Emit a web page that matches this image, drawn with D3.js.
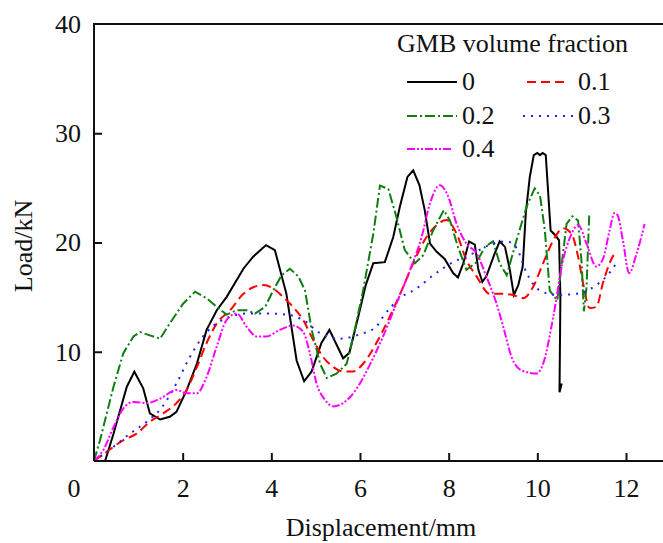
<!doctype html>
<html>
  <head>
    <title>Load vs displacement</title>
    <style>
      * { margin: 0; padding: 0; }
      body { background: #fff; }
      svg text { font-family: "Liberation Serif", "Times New Roman", serif; fill: #111; }
    </style>
    <script src="https://d3js.org/d3.v7.min.js"></script>
  </head>
  <body>
    <div id="chart"></div>
    <script>
    // displacement (mm) and load (kN), one pair of arrays per GMB fraction
    const x0 = [0, 0.25, 0.44, 0.74, 0.91, 1.11, 1.26, 1.49, 1.71, 1.86, 2.09, 2.32, 2.54, 2.77, 2.99, 3.37, 3.59, 3.88, 4.08, 4.34, 4.57, 4.74, 4.91, 5.13, 5.31, 5.62, 5.76, 5.96, 6.13, 6.3, 6.56, 6.75, 6.9, 7.07, 7.2, 7.34, 7.46, 7.58, 7.73, 7.91, 8.1, 8.21, 8.33, 8.46, 8.59, 8.67, 8.76, 8.85, 9.02, 9.15, 9.27, 9.38, 9.47, 9.57, 9.67, 9.74, 9.83, 9.92, 10.0, 10.06, 10.12, 10.19, 10.3, 10.42, 10.49, 10.52, 10.5, 10.55];
    const y0 = [0, 0, 2.5, 6.8, 8.17, 6.65, 4.36, 3.8, 4.05, 4.5, 6.5, 8.9, 12.0, 13.8, 15.0, 17.6, 18.7, 19.76, 19.3, 15.3, 9.2, 7.3, 8.2, 10.8, 12.0, 9.4, 9.9, 13.2, 16.1, 18.1, 18.2, 20.5, 23.3, 26.0, 26.6, 25.25, 22.96, 19.9, 19.15, 18.5, 17.2, 16.8, 18.1, 20.1, 19.8, 17.5, 16.4, 16.9, 18.8, 20.1, 19.6, 17.5, 15.2, 16.1, 17.8, 22.7, 26.0, 28.0, 28.2, 28.0, 28.2, 28.0, 21.1, 20.6, 20.2, 15.0, 6.3, 7.1];

    const x1 = [0, 0.29, 0.66, 0.96, 1.26, 1.56, 1.86, 2.09, 2.32, 2.54, 2.77, 3.07, 3.37, 3.59, 3.82, 4.04, 4.27, 4.49, 4.72, 4.94, 5.17, 5.4, 5.62, 5.85, 6.07, 6.37, 6.67, 6.97, 7.2, 7.5, 7.73, 7.95, 8.18, 8.4, 8.63, 8.93, 9.23, 9.45, 9.68, 9.9, 10.13, 10.36, 10.58, 10.77, 10.92, 11.03, 11.18, 11.33, 11.48, 11.63, 11.72];
    const y1 = [0, 0.85, 1.9, 2.5, 3.6, 4.35, 5.3, 6.5, 8.6, 10.8, 12.6, 13.8, 15.3, 15.9, 16.1, 15.8, 15.0, 14.1, 12.9, 11.1, 9.5, 8.6, 8.2, 8.2, 8.9, 10.8, 13.2, 15.9, 18.1, 20.5, 21.6, 22.05, 20.8, 18.4, 16.9, 15.3, 15.3, 15.2, 14.9, 15.9, 18.1, 20.2, 21.3, 20.8, 18.7, 16.3, 14.0, 14.1, 16.3, 18.1, 18.85];

    const x2 = [0, 0.135, 0.44, 0.66, 0.89, 1.04, 1.26, 1.49, 1.71, 2.01, 2.28, 2.54, 2.77, 2.99, 3.22, 3.44, 3.63, 3.86, 4.04, 4.23, 4.42, 4.61, 4.76, 4.91, 5.1, 5.25, 5.47, 5.7, 5.85, 6.07, 6.3, 6.45, 6.64, 6.82, 7.01, 7.24, 7.43, 7.65, 7.89, 8.03, 8.21, 8.4, 8.63, 8.82, 9.0, 9.15, 9.31, 9.53, 9.76, 9.94, 10.06, 10.17, 10.28, 10.45, 10.57, 10.66, 10.79, 10.92, 11.0, 11.05, 11.11, 11.17];
    const y2 = [0, 1.9, 6.8, 9.85, 11.4, 11.8, 11.5, 11.2, 12.6, 14.4, 15.5, 14.9, 14.1, 13.4, 13.8, 13.8, 13.5, 14.1, 15.6, 17.0, 17.6, 16.9, 15.6, 12.0, 8.9, 7.6, 8.0, 8.9, 11.4, 15.6, 20.8, 25.2, 24.9, 22.35, 19.3, 18.1, 18.85, 21.1, 22.96, 22.0, 19.6, 17.5, 18.2, 19.6, 20.1, 18.1, 17.0, 20.2, 23.3, 24.95, 24.3, 21.1, 15.6, 14.7, 18.7, 21.7, 22.4, 22.0, 18.1, 13.7, 15.9, 22.5];

    const x3 = [0, 0.44, 0.81, 1.19, 1.49, 1.86, 2.16, 2.46, 2.77, 3.07, 3.44, 3.89, 4.34, 4.72, 5.1, 5.55, 6.0, 6.37, 6.52, 6.9, 7.28, 7.65, 8.1, 8.55, 8.93, 9.31, 9.53, 9.76, 10.06, 10.43, 10.88, 11.33, 11.56, 11.8];
    const y3 = [0, 1.3, 2.5, 3.6, 4.7, 7.1, 9.5, 11.4, 12.6, 13.2, 13.5, 13.5, 13.4, 12.9, 11.7, 11.2, 11.6, 12.3, 13.2, 14.9, 15.8, 17.0, 18.2, 19.0, 19.8, 20.1, 19.5, 17.2, 15.6, 15.2, 15.3, 16.1, 16.9, 18.2];

    const x4 = [0, 0.21, 0.44, 0.66, 0.89, 1.19, 1.49, 1.86, 2.09, 2.32, 2.54, 2.77, 2.99, 3.22, 3.44, 3.67, 3.89, 4.19, 4.49, 4.72, 4.87, 5.02, 5.21, 5.4, 5.62, 5.92, 6.22, 6.52, 6.82, 7.13, 7.39, 7.58, 7.8, 7.99, 8.18, 8.4, 8.63, 8.85, 9.08, 9.23, 9.42, 9.64, 9.98, 10.13, 10.36, 10.58, 10.74, 10.92, 11.11, 11.33, 11.48, 11.63, 11.74, 11.81, 11.93, 12.07, 12.24, 12.42];
    const y4 = [0, 1.0, 3.1, 4.8, 5.4, 5.3, 5.7, 6.5, 6.2, 6.2, 7.7, 10.5, 12.9, 13.5, 12.3, 11.4, 11.4, 12.0, 12.4, 11.8, 9.85, 7.1, 5.6, 5.0, 5.3, 6.6, 8.8, 11.4, 14.4, 17.5, 20.5, 23.6, 25.25, 24.2, 21.7, 19.9, 19.0, 16.9, 14.4, 12.3, 9.5, 8.3, 8.0, 8.9, 13.2, 18.4, 20.5, 21.6, 19.9, 17.8, 18.5, 21.1, 22.7, 22.5, 20.2, 17.2, 19.0, 21.7];

    const seriesNames = ["0", "0.1", "0.2", "0.3", "0.4"];
    const xTicks = [2, 4, 6, 8, 10, 12];
    const yTicks = [10, 20, 30, 40];

    const series = [
      {name: "0", xs: x0, ys: y0, color: "#000000", dash: null, curve: d3.curveLinear},
      {name: "0.1", xs: x1, ys: y1, color: "#ff0000", dash: "9,5", curve: d3.curveMonotoneX},
      {name: "0.2", xs: x2, ys: y2, color: "#0f7d0f", dash: "10,3,2,3", curve: d3.curveLinear},
      {name: "0.3", xs: x3, ys: y3, color: "#1f1fff", dash: "2,6", curve: d3.curveMonotoneX},
      {name: "0.4", xs: x4, ys: y4, color: "#ff00ff", dash: "8,2,2,2,2,2", curve: d3.curveMonotoneX}
    ];

    const W = 663, H = 543;
    const FS = 26;
    const svg = d3.select("#chart").append("svg").attr("width", W).attr("height", H);

    const x = d3.scaleLinear().domain([0, 12]).range([94, 626]);
    const y = d3.scaleLinear().domain([0, 40]).range([461, 24]);

    // curves, clipped to plot
    svg.append("clipPath").attr("id", "clip")
      .append("rect").attr("x", 94).attr("y", 24).attr("width", W - 94).attr("height", 437);

    const g = svg.append("g").attr("clip-path", "url(#clip)");
    series.forEach(function (s) {
      const pts = s.xs.map(function (v, i) { return [v, s.ys[i]]; });
      const line = d3.line().x(function (d) { return x(d[0]); }).y(function (d) { return y(d[1]); }).curve(s.curve);
      g.append("path")
        .attr("d", line(pts))
        .attr("fill", "none")
        .attr("stroke", s.color)
        .attr("stroke-width", 2)
        .attr("stroke-dasharray", s.dash);
    });

    // axes: ticks point inward
    const xAxis = svg.append("g").attr("transform", "translate(0,461)")
      .call(d3.axisBottom(x).tickValues(xTicks).tickSize(-8).tickPadding(13).tickSizeOuter(0));
    xAxis.select(".domain").attr("d", "M94,0H" + W);
    const yAxis = svg.append("g").attr("transform", "translate(94,0)")
      .call(d3.axisLeft(y).tickValues(yTicks).tickSize(-8).tickPadding(13).tickSizeOuter(0));
    yAxis.select(".domain").attr("d", "M0,24V461");
    svg.selectAll(".domain, .tick line").attr("stroke", "#111").attr("stroke-width", 2);
    svg.selectAll(".tick text").attr("font-family", "Liberation Serif").attr("font-size", FS).attr("fill", "#111");
    xAxis.selectAll(".tick text").attr("dy", "0.9em");
    yAxis.select(".tick:last-of-type line").remove();

    // top border
    svg.append("line").attr("x1", 93).attr("x2", W).attr("y1", 24).attr("y2", 24)
      .attr("stroke", "#111").attr("stroke-width", 2);

    // shared origin label
    svg.append("text").attr("x", 74).attr("y", 497).attr("text-anchor", "middle")
      .attr("font-size", FS).text("0");

    svg.append("text").attr("x", 381).attr("y", 536).attr("text-anchor", "middle")
      .attr("font-size", FS).text("Displacement/mm");
    svg.append("text").attr("transform", "translate(32,246) rotate(-90)").attr("text-anchor", "middle")
      .attr("font-size", FS).text("Load/kN");

    // legend
    const leg = svg.append("g");
    leg.append("text").attr("x", 397).attr("y", 52).attr("font-size", FS).text("GMB volume fraction");
    const legPos = [
      {lx: 407, lw: 50, ty: 90, tx: 462},
      {lx: 527, lw: 37, ty: 90, tx: 578},
      {lx: 407, lw: 50, ty: 124, tx: 462},
      {lx: 523, lw: 50, ty: 124, tx: 578},
      {lx: 407, lw: 46, ty: 157, tx: 462}
    ];
    series.forEach(function (s, i) {
      const p = legPos[i];
      leg.append("line").attr("x1", p.lx).attr("x2", p.lx + p.lw)
        .attr("y1", p.ty - 8).attr("y2", p.ty - 8)
        .attr("stroke", s.color).attr("stroke-width", 2).attr("stroke-dasharray", s.dash);
      leg.append("text").attr("x", p.tx).attr("y", p.ty).attr("font-size", FS).text(seriesNames[i]);
    });
    </script>
  </body>
</html>
